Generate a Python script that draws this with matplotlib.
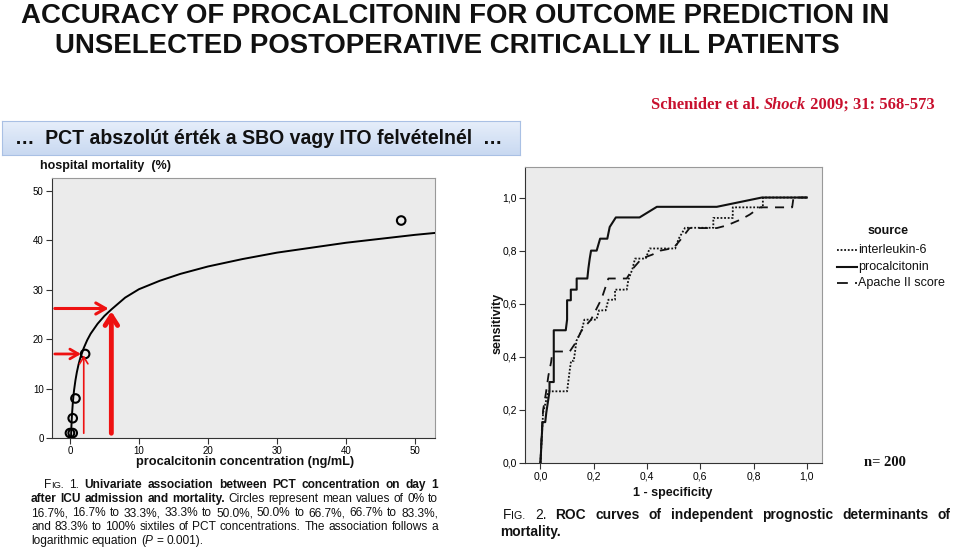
import matplotlib
matplotlib.use("Agg")
import matplotlib.pyplot as plt
from matplotlib import font_manager
from matplotlib.lines import Line2D
import numpy as np

# ---- values ----
# logarithmic fit, fig. 1
curve_pct = [0.16, 0.2, 0.25, 0.3, 0.4, 0.5, 0.6, 0.8, 1.0, 1.25, 1.5, 2.0, 2.5, 3.0,
             4.0, 5.0, 6.0, 7.0, 8.0, 10.0, 13.0, 16.0, 20.0, 25.0, 30.0, 35.0, 40.0,
             45.0, 50.0, 53.0]
curve_mort = [0.3, 1.9, 3.5, 4.8, 6.8, 8.4, 9.7, 11.7, 13.3, 14.9, 16.2, 18.2, 19.8, 21.1,
              23.1, 24.7, 26.0, 27.2, 28.4, 30.1, 31.8, 33.2, 34.7, 36.2, 37.5, 38.5, 39.5,
              40.3, 41.1, 41.5]
# sixtile means
sixtile_pct = [0.0, 0.4, 0.4, 0.8, 2.2, 48.0]
sixtile_mort = [1.0, 1.0, 4.0, 8.0, 17.0, 44.0]
# red arrows (PCT, mortality)
cut_pct = [2.0, 6.0]
cut_mort = [17.0, 26.2]

# ROC curves, fig. 2
roc_pct_x = [0, 0.005, 0.008, 0.018, 0.022, 0.028, 0.034, 0.034, 0.05, 0.05, 0.095, 0.10,
             0.10, 0.114, 0.114, 0.136, 0.136, 0.176, 0.18, 0.185, 0.19, 0.211, 0.224, 0.251,
             0.26, 0.283, 0.372, 0.437, 0.662, 0.831, 1.0]
roc_pct_y = [0, 0.10, 0.154, 0.154, 0.19, 0.23, 0.27, 0.305, 0.305, 0.50, 0.50, 0.54,
             0.613, 0.613, 0.653, 0.653, 0.695, 0.695, 0.733, 0.77, 0.80, 0.80, 0.845, 0.845,
             0.889, 0.925, 0.925, 0.965, 0.965, 1.0, 1.0]
roc_il6_x = [0, 0.005, 0.01, 0.02, 0.03, 0.10, 0.105, 0.11, 0.115, 0.125, 0.13, 0.135, 0.155,
             0.165, 0.21, 0.22, 0.245, 0.255, 0.28, 0.28, 0.324, 0.33, 0.345, 0.355, 0.395,
             0.41, 0.506, 0.519, 0.543, 0.649, 0.649, 0.722, 0.722, 0.835, 0.835, 1.0]
roc_il6_y = [0, 0.10, 0.19, 0.23, 0.27, 0.27, 0.31, 0.35, 0.385, 0.385, 0.42, 0.46, 0.50,
             0.54, 0.54, 0.575, 0.575, 0.615, 0.615, 0.653, 0.653, 0.69, 0.73, 0.77, 0.77,
             0.808, 0.808, 0.845, 0.886, 0.886, 0.923, 0.923, 0.963, 0.963, 1.0, 1.0]
roc_apache_x = [0, 0.005, 0.01, 0.02, 0.03, 0.04, 0.045, 0.11, 0.13, 0.155, 0.19, 0.21, 0.23,
                0.255, 0.324, 0.345, 0.38, 0.42, 0.45, 0.5, 0.525, 0.56, 0.662, 0.70, 0.754,
                0.786, 0.824, 0.945, 0.95, 1.0]
roc_apache_y = [0, 0.12, 0.20, 0.26, 0.33, 0.38, 0.42, 0.42, 0.45, 0.50, 0.54, 0.58, 0.62,
                0.695, 0.695, 0.73, 0.77, 0.785, 0.80, 0.81, 0.84, 0.885, 0.885, 0.895, 0.918,
                0.936, 0.963, 0.963, 1.0, 1.0]
roc_labels = ["interleukin-6", "procalcitonin", "Apache II score"]
roc_ticks = [0.0, 0.2, 0.4, 0.6, 0.8, 1.0]

W, H = 959, 555


def fx(px):
    return px / W


def fy(py):
    return 1 - py / H


avail = {f.name for f in font_manager.fontManager.ttflist}
sans = "Liberation Sans" if "Liberation Sans" in avail else "DejaVu Sans"
narrow = "Liberation Sans Narrow" if "Liberation Sans Narrow" in avail else sans
serif = "Liberation Serif" if "Liberation Serif" in avail else "DejaVu Serif"
plt.rcParams["font.family"] = [sans, "DejaVu Sans"]

fig = plt.figure(figsize=(W / 100, H / 100), dpi=100)
fig.patch.set_facecolor("white")
renderer = fig.canvas.get_renderer()


def text_w(s, **kw):
    t = fig.text(0, 0, s, **kw)
    w = t.get_window_extent(renderer).width
    t.remove()
    return w


def fit_size(s, target, **kw):
    w = text_w(s, fontsize=10, **kw)
    return 10 * target / w


def put_line(words, x0, x1, y, justify=True):
    # words: list of glued pieces [(text, kw), ...]
    widths = [sum(text_w(p, **kw) for p, kw in w) for w in words]
    if justify and len(words) > 1:
        gap = (x1 - x0 - sum(widths)) / (len(words) - 1)
    else:
        kw = words[0][0][1]
        gap = text_w("a a", **kw) - text_w("aa", **kw)
    x = x0
    for w, wd in zip(words, widths):
        for p, kw in w:
            fig.text(fx(x), fy(y), p, ha="left", va="baseline", **kw)
            x += text_w(p, **kw)
        x += gap


# ---- title ----
t1 = "ACCURACY OF PROCALCITONIN FOR OUTCOME PREDICTION IN"
t2 = "UNSELECTED POSTOPERATIVE CRITICALLY ILL PATIENTS"
ts = fit_size(t1, 868, family=narrow, weight="bold")
fig.text(fx(455), fy(16), t1, family=narrow, weight="bold", fontsize=ts,
         ha="center", va="center", color="#111111")
fig.text(fx(447), fy(46), t2, family=narrow, weight="bold", fontsize=ts,
         ha="center", va="center", color="#111111")

# ---- citation ----
red = "#c8102e"
cit = [("Schenider et al. ", {}), ("Shock", {"style": "italic"}), (" 2009; 31: 568-573", {})]
cx = 651
for s, extra in cit:
    kw = dict(family=serif, weight="bold", fontsize=11.9, color=red, **extra)
    fig.text(fx(cx), fy(109), s, ha="left", va="baseline", **kw)
    cx += text_w(s, **kw)

# ---- blue box ----
bax = fig.add_axes([fx(2), fy(155), fx(520) - fx(2), fy(121) - fy(155)])
grad = np.linspace(0, 1, 50).reshape(-1, 1)
bax.imshow(grad, aspect="auto", cmap=matplotlib.colors.LinearSegmentedColormap.from_list(
    "b", ["#e6eefa", "#c9d9f1"]), extent=[0, 1, 0, 1])
bax.set_xticks([])
bax.set_yticks([])
for sp in bax.spines.values():
    sp.set_color("#a9c0e4")
box_txt = "…  PCT abszolút érték a SBO vagy ITO felvételnél  …"
bs = fit_size(box_txt, 490, weight="bold")
fig.text(fx(15), fy(138), box_txt, weight="bold", fontsize=bs, ha="left", va="center",
         color="#111111")

# ---- fig. 1: mortality vs PCT ----
ax1 = fig.add_axes([fx(52), fy(438), fx(435) - fx(52), fy(178) - fy(438)])
ax1.set_facecolor("#ebebeb")
ax1.plot(curve_pct, curve_mort, color="black", lw=1.4, zorder=3)
ax1.scatter(sixtile_pct, sixtile_mort, s=38, facecolors="none", edgecolors="black",
            linewidths=1.5, zorder=4)
ax1.set_xlim(-2.6, 52.9)
ax1.set_ylim(0, 52.6)
ax1.set_xticks(range(0, 51, 10))
ax1.set_yticks(range(0, 51, 10))
ax1.tick_params(labelsize=7, length=4, width=0.8, color="#333333", pad=2)
for sp in ax1.spines.values():
    sp.set_color("#999999")
    sp.set_linewidth(0.8)
ax1.spines["left"].set_color("#333333")
ax1.spines["bottom"].set_color("#333333")

arrow_red = "#ee1111"
x_left = ax1.get_xlim()[0]
ax1.annotate("", xy=(cut_pct[0], cut_mort[0]), xytext=(x_left, cut_mort[0]),
             arrowprops=dict(arrowstyle="->,head_length=0.6,head_width=0.35",
                             color=arrow_red, lw=2), zorder=5)
ax1.annotate("", xy=(cut_pct[0], cut_mort[0] + 0.3), xytext=(cut_pct[0], 0.4),
             arrowprops=dict(arrowstyle="->,head_length=0.5,head_width=0.3",
                             color=arrow_red, lw=1.2), zorder=5)
ax1.annotate("", xy=(cut_pct[1], cut_mort[1]), xytext=(x_left, cut_mort[1]),
             arrowprops=dict(arrowstyle="->,head_length=0.7,head_width=0.4",
                             color=arrow_red, lw=2.2), zorder=5)
ax1.annotate("", xy=(cut_pct[1], cut_mort[1]), xytext=(cut_pct[1], 0.4),
             arrowprops=dict(arrowstyle="->,head_length=0.7,head_width=0.45",
                             color=arrow_red, lw=3.5), zorder=5)

fig.text(fx(40), fy(166), "hospital mortality  (%)", weight="bold", fontsize=9,
         ha="left", va="center", color="#111111")
fig.text(fx(245), fy(462), "procalcitonin concentration (ng/mL)", weight="bold",
         fontsize=9.2, ha="center", va="center", color="#111111")

# caption 1
cs = 8.6
nb = {"fontsize": cs, "color": "#111111"}
bb = {"fontsize": cs, "color": "#111111", "weight": "bold"}
sc = {"fontsize": cs * 0.78, "color": "#111111"}


def words(text, kw):
    return [[(w, kw)] for w in text.split()]


put_line([[("F", nb), ("IG.", sc)], [("1.", nb)]] +
         words("Univariate association between PCT concentration on day 1", bb),
         44, 438, 488)
put_line(words("after ICU admission and mortality.", bb) +
         words("Circles represent mean values of 0% to", nb), 31, 438, 502)
put_line(words("16.7%, 16.7% to 33.3%, 33.3% to 50.0%, 50.0% to 66.7%, 66.7% to 83.3%,", nb),
         31, 438, 516)
put_line(words("and 83.3% to 100% sixtiles of PCT concentrations. The association follows a", nb),
         31, 438, 530)
put_line(words("logarithmic equation", nb) +
         [[("(", nb), ("P", {**nb, "style": "italic"})]] +
         words("= 0.001).", nb), 31, 438, 544, justify=False)

# ---- fig. 2: ROC ----
ax2 = fig.add_axes([fx(525), fy(463), fx(822) - fx(525), fy(167) - fy(463)])
ax2.set_facecolor("#ebebeb")
dot_ls = (0, (1, 1))
dash_ls = (0, (5, 4))
ax2.plot(roc_il6_x, roc_il6_y, color="#111111", lw=1.3, ls=dot_ls)
ax2.plot(roc_pct_x, roc_pct_y, color="#111111", lw=1.5, ls="-")
ax2.plot(roc_apache_x, roc_apache_y, color="#111111", lw=1.3, ls=dash_ls)
ax2.set_xlim(-0.058, 1.057)
ax2.set_ylim(0, 1.115)
ax2.set_xticks(roc_ticks)
ax2.set_yticks(roc_ticks)
tick_txt = [f"{v:.1f}".replace(".", ",") for v in roc_ticks]
ax2.set_xticklabels(tick_txt)
ax2.set_yticklabels(tick_txt)
ax2.tick_params(labelsize=7.5, length=4, width=0.8, color="#333333", pad=2)
for sp in ax2.spines.values():
    sp.set_color("#999999")
    sp.set_linewidth(0.8)
ax2.spines["left"].set_color("#333333")
ax2.spines["bottom"].set_color("#333333")

fig.text(fx(498), fy(323), "sensitivity", weight="bold", fontsize=9, rotation=90,
         ha="center", va="center", color="#111111")
fig.text(fx(673), fy(493), "1 - specificity", weight="bold", fontsize=9,
         ha="center", va="center", color="#111111")

# legend
fig.text(fx(888), fy(231), "source", weight="bold", fontsize=9, ha="center", va="center",
         color="#111111")
for ls, lw, lab, yy in zip([dot_ls, "-", (0, (6, 4))], [1.3, 1.5, 1.3], roc_labels,
                           [250, 267, 283]):
    fig.add_artist(Line2D([fx(837), fx(857)], [fy(yy), fy(yy)], transform=fig.transFigure,
                          color="#111111", lw=lw, ls=ls))
    fig.text(fx(858), fy(yy), lab, fontsize=9, ha="left", va="center", color="#111111")

fig.text(fx(885), fy(463), "n= 200", family=serif, weight="bold", fontsize=10.5,
         ha="center", va="center", color="#111111")

# caption 2
c2s_ = 9.9
c2 = {"fontsize": c2s_, "color": "#111111"}
c2b = {"fontsize": c2s_, "color": "#111111", "weight": "bold"}
c2s = {"fontsize": c2s_ * 0.78, "color": "#111111"}
put_line([[("F", c2), ("IG.", c2s)], [("2.", c2)]] +
         words("ROC curves of independent prognostic determinants of", c2b),
         503, 951, 519)
put_line(words("mortality.", c2b), 500, 951, 536, justify=False)

fig.savefig("out.png", dpi=100)
